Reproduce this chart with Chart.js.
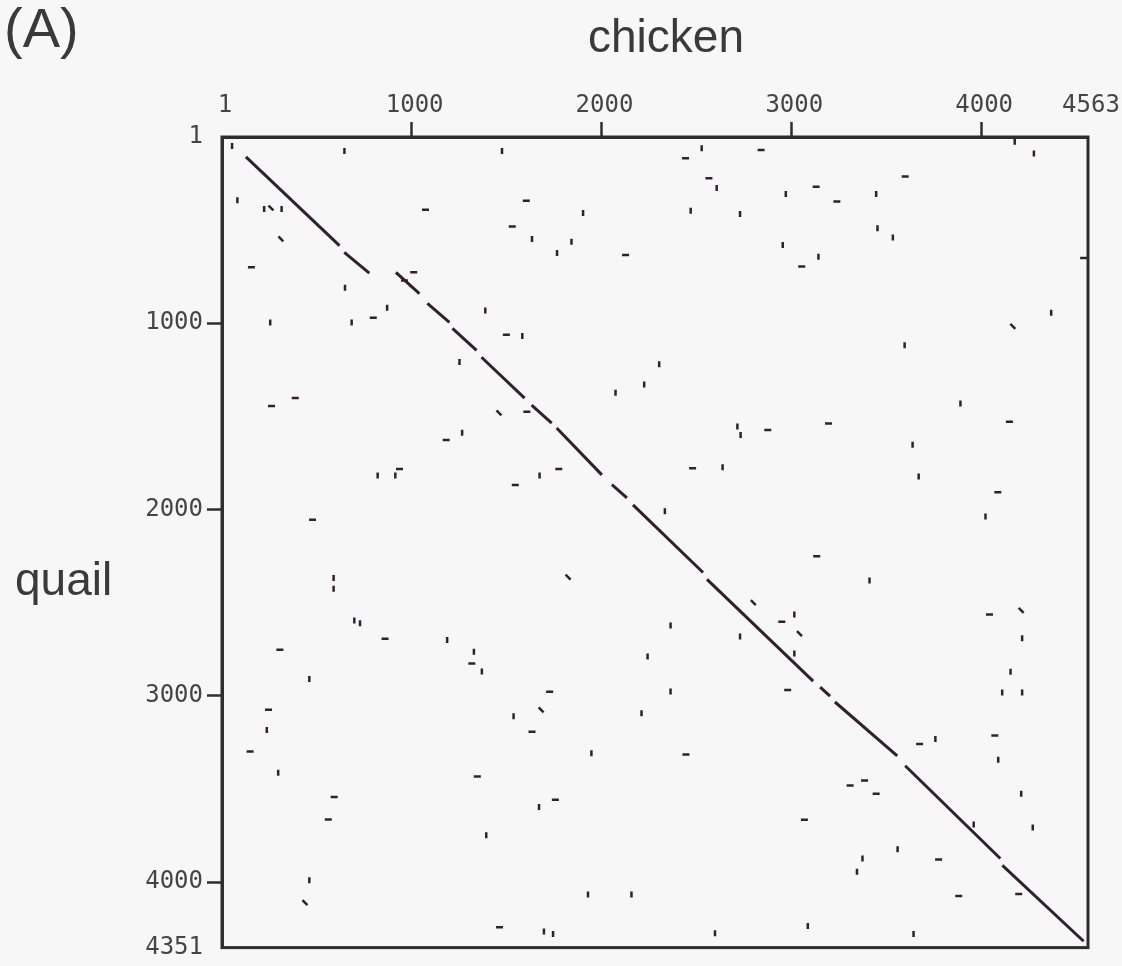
<!DOCTYPE html>
<html>
<head>
<meta charset="utf-8">
<title>chicken / quail dot plot</title>
<script src="https://cdn.jsdelivr.net/npm/chart.js@4.4.1/dist/chart.umd.min.js"></script>
<style>
  html, body { margin: 0; padding: 0; background: #f7f7f8; }
  #wrap { width: 1122px; height: 966px; }
</style>
</head>
<body>
<div id="wrap"><canvas id="dotplot" width="1122" height="966"></canvas></div>
<script>
const xTicks = [1, 1000, 2000, 3000, 4000, 4563];
const yTicks = [1, 1000, 2000, 3000, 4000, 4351];

// conserved runs along the main diagonal [chicken, quail]
const diagonalRuns = [
  [[127, 108], [620, 584]],
  [[645, 620], [777, 732]],
  [[917, 727], [1041, 841]],
  [[1083, 894], [1199, 996]],
  [[1215, 1028], [1342, 1146]],
  [[1368, 1183], [1595, 1402]],
  [[1632, 1440], [1738, 1536]],
  [[1764, 1563], [2002, 1814]],
  [[2055, 1867], [2134, 1937]],
  [[2166, 1975], [2535, 2338]],
  [[2556, 2375], [3115, 2921]],
  [[3152, 2953], [3204, 3001]],
  [[3230, 3033], [3558, 3322]],
  [[3600, 3375], [4101, 3873]],
  [[4112, 3910], [4540, 4317]]
];

// off-diagonal hits, by the shape of the little mark
const dashMarks = [
  [1073, 391], [1604, 343], [1530, 481], [2127, 634], [156, 700], [1011, 727], [962, 771],
  [798, 971], [1499, 1062], [387, 1401], [262, 1445], [1607, 1475], [1182, 1627], [936, 1782],
  [1775, 1782], [1546, 1868], [478, 2055], [2841, 71], [2443, 115], [2566, 222], [3600, 213],
  [3131, 268], [3240, 347], [3055, 696], [4540, 650], [4149, 1529], [3196, 1538], [2876, 1573],
  [2480, 1778], [4088, 1907], [860, 2693], [306, 2753], [1317, 2826], [1727, 2978], [1634, 3192],
  [246, 3075], [149, 3299], [1346, 3433], [592, 3543], [561, 3664], [1757, 3557], [1463, 4242],
  [3134, 2251], [2950, 2602], [4044, 2563], [2981, 2969], [2445, 3315], [3676, 3258], [4072, 3213],
  [3310, 3481], [3386, 3454], [3447, 3525], [3069, 3665], [3776, 3878], [3882, 4074], [4198, 4064]
];

const tickMarks = [
  [54, 49], [646, 76], [1476, 76], [82, 340], [223, 388], [315, 388], [1903, 409], [1634, 548],
  [1842, 563], [1766, 623], [649, 810], [871, 917], [684, 997], [255, 997], [1388, 932],
  [1583, 1069], [1252, 1208], [2304, 1220], [2225, 1329], [2074, 1374], [1266, 1588], [914, 1818],
  [821, 1818], [1674, 1818], [2334, 2010], [2528, 62], [2607, 275], [4177, 26], [4278, 90],
  [2971, 307], [3447, 307], [2470, 397], [2730, 414], [3454, 491], [3535, 540], [2955, 580],
  [3143, 643], [4369, 944], [3597, 1119], [3891, 1431], [2716, 1555], [2733, 1600], [3639, 1653],
  [2638, 1773], [3671, 1823], [4023, 2037], [589, 2367], [589, 2425], [698, 2595], [728, 2611],
  [1187, 2700], [1328, 2763], [1370, 2869], [461, 2910], [2243, 2789], [1537, 3110], [2211, 3094],
  [237, 3183], [297, 3413], [1947, 3308], [1671, 3597], [1393, 3748], [461, 3989], [1929, 4066],
  [2158, 4066], [1697, 4265], [1745, 4278], [3412, 2381], [3016, 2563], [3016, 2773], [4216, 2691],
  [4155, 2871], [4111, 2982], [4216, 2982], [2364, 2622], [2730, 2682], [2364, 2976], [3759, 3231],
  [4090, 3343], [4211, 3525], [4272, 3707], [3961, 3690], [3560, 3823], [3375, 3873], [3346, 3944],
  [2598, 4274], [3087, 4235], [3644, 4278]
];

const slantMarks = [
  [259, 382], [311, 548], [1460, 1481], [4167, 1017], [1824, 2363], [1682, 3075],
  [438, 4110], [2800, 2500], [3043, 2666], [4211, 2541]
];

const markColor = '#33202c';
const axisColor = '#2e2e2e';
const labelColor = '#454545';
const tickFont = { family: '"DejaVu Sans Mono", "Liberation Mono", monospace', size: 24 };

const toPoints = list => list.map(p => ({ x: p[0], y: p[1] }));
const diagonalPoints = [];
diagonalRuns.forEach(run => {
  run.forEach(p => diagonalPoints.push({ x: p[0], y: p[1] }));
  diagonalPoints.push({ x: null, y: null });
});

function markSet(data, rotation, radius) {
  return {
    data: toPoints(data),
    pointStyle: 'line',
    rotation: rotation,
    pointRadius: radius,
    pointBorderWidth: 2.5,
    borderColor: markColor,
    backgroundColor: markColor
  };
}

const hideEnds = (ctx, max) => {
  const v = ctx.tick ? ctx.tick.value : null;
  return (v === 1 || v === max) ? 'rgba(0,0,0,0)' : axisColor;
};

const paperPlugin = {
  id: 'paper',
  beforeDraw(chart) {
    const ctx = chart.ctx;
    ctx.save();
    ctx.fillStyle = '#f7f7f8';
    ctx.fillRect(0, 0, chart.width, chart.height);
    ctx.restore();
  }
};

const framePlugin = {
  id: 'frame',
  afterDatasetsDraw(chart) {
    const { ctx, chartArea: a } = chart;
    ctx.save();
    ctx.strokeStyle = axisColor;
    ctx.lineWidth = 3;
    ctx.strokeRect(a.left, a.top, a.right - a.left, a.bottom - a.top);
    ctx.restore();
  }
};

const captionPlugin = {
  id: 'captions',
  afterDraw(chart) {
    const ctx = chart.ctx;
    ctx.save();
    ctx.fillStyle = '#3a3a3a';
    ctx.textBaseline = 'alphabetic';
    ctx.textAlign = 'left';
    ctx.font = '56px "Liberation Sans", Arial, sans-serif';
    ctx.fillText('(A)', 4, 47);
    ctx.font = '46px "Liberation Sans", Arial, sans-serif';
    ctx.fillText('chicken', 588, 52);
    ctx.fillText('quail', 15, 595);
    ctx.restore();
  }
};

new Chart(document.getElementById('dotplot'), {
  type: 'scatter',
  data: {
    datasets: [
      {
        data: diagonalPoints,
        showLine: true,
        spanGaps: false,
        borderColor: markColor,
        borderWidth: 3,
        pointRadius: 0
      },
      markSet(dashMarks, 0, 3.5),
      markSet(tickMarks, 90, 3),
      markSet(slantMarks, 45, 3.5)
    ]
  },
  options: {
    responsive: false,
    animation: false,
    layout: { padding: { left: 0, top: 0, right: 34, bottom: 18 } },
    plugins: { legend: { display: false }, tooltip: { enabled: false } },
    scales: {
      x: {
        type: 'linear',
        position: 'top',
        min: 1,
        max: 4563,
        afterBuildTicks: s => { s.ticks = xTicks.map(v => ({ value: v })); },
        afterFit: s => { s.height = 137; },
        ticks: { callback: v => String(v), font: tickFont, color: labelColor, padding: 2, maxRotation: 0, autoSkip: false, labelOffset: 3 },
        grid: { drawOnChartArea: false, tickLength: 15, tickWidth: 2.5, tickColor: c => hideEnds(c, 4563) },
        border: { display: true, color: axisColor, width: 3 }
      },
      y: {
        type: 'linear',
        reverse: true,
        min: 1,
        max: 4351,
        afterBuildTicks: s => { s.ticks = yTicks.map(v => ({ value: v })); },
        afterFit: s => { s.width = 222; },
        ticks: { callback: v => String(v), font: tickFont, color: labelColor, padding: 4, autoSkip: false },
        grid: { drawOnChartArea: false, tickLength: 15, tickWidth: 2.5, tickColor: c => hideEnds(c, 4351) },
        border: { display: true, color: axisColor, width: 3 }
      }
    }
  },
  plugins: [paperPlugin, framePlugin, captionPlugin]
});
</script>
</body>
</html>
